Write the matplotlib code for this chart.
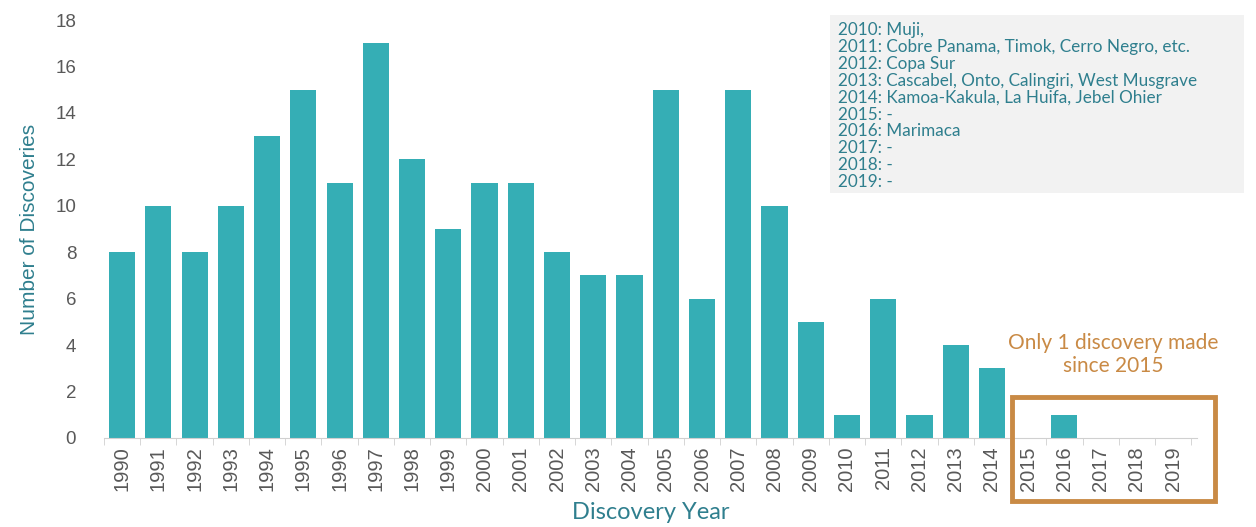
import matplotlib.pyplot as plt
from matplotlib.patches import Rectangle
from matplotlib.ticker import FixedLocator

years = list(range(1990, 2020))
discoveries = [8, 10, 8, 10, 13, 15, 11, 17, 12, 9,
               11, 11, 8, 7, 7, 15, 6, 15, 10, 5,
               1, 6, 1, 4, 3, 0, 1, 0, 0, 0]

notes = [
    "2010: Muji,",
    "2011: Cobre Panama, Timok, Cerro Negro, etc.",
    "2012: Copa Sur",
    "2013: Cascabel, Onto, Calingiri, West Musgrave",
    "2014: Kamoa-Kakula, La Huifa, Jebel Ohier",
    "2015: -",
    "2016: Marimaca",
    "2017: -",
    "2018: -",
    "2019: -",
]

bar_color = "#35aeb5"
teal_text = "#2f7f8e"
orange = "#c98a45"
grey = "#595959"

fig = plt.figure(figsize=(12.56, 5.27), dpi=100)
ax = fig.add_axes([0.0828, 0.169, 0.870, 0.793])

x = range(len(years))
ax.bar(x, discoveries, width=0.72, color=bar_color, zorder=2)

ax.set_xlim(-0.5, len(years) - 0.35)
ax.set_ylim(0, 18)
ax.set_yticks(range(0, 19, 2))
ax.set_xticks(list(x))
ax.set_xticklabels([str(y) for y in years], rotation=90,
                   fontsize=14.5, color=grey, family="Liberation Sans")
ax.xaxis.set_minor_locator(FixedLocator([i - 0.5 for i in range(len(years) + 1)]))
ax.tick_params(axis="x", which="major", length=0, pad=6)
ax.tick_params(axis="x", which="minor", length=5, color="#d0d0d0")
ax.tick_params(axis="y", length=0, labelsize=13.5, labelcolor=grey, pad=20)
for lbl in ax.get_yticklabels():
    lbl.set_family("Liberation Sans")

for side in ("top", "right", "left"):
    ax.spines[side].set_visible(False)
ax.spines["bottom"].set_color("#d0d0d0")

ax.set_ylabel("Number of Discoveries", fontsize=15, color=teal_text,
              family="Liberation Sans", labelpad=12)
ax.set_xlabel("Discovery Year", fontsize=17, color=teal_text,
              family="Lato", labelpad=8)

# list of named discoveries per year
fig.patches.append(Rectangle((830 / 1256, 1 - 193 / 527), 414 / 1256, 178 / 527,
                             transform=fig.transFigure, facecolor="#f2f2f2",
                             edgecolor="none", zorder=0))
for i, line in enumerate(notes):
    fig.text(838 / 1256, 1 - (30 + i * 16.9) / 527, line, fontsize=12.3,
             color=teal_text, family="Lato", va="center", ha="left")

# callout for the last five years
fig.text(1113 / 1256, 1 - 343 / 527, "Only 1 discovery made", fontsize=15,
         color=orange, family="Lato", ha="center", va="center")
fig.text(1113 / 1256, 1 - 366 / 527, "since 2015", fontsize=15,
         color=orange, family="Lato", ha="center", va="center")
fig.patches.append(Rectangle((1012 / 1256, 1 - 501 / 527), 203 / 1256, 104 / 527,
                             transform=fig.transFigure, facecolor="none",
                             edgecolor=orange, linewidth=3.5, zorder=5))

fig.savefig("out.png", dpi=100)
